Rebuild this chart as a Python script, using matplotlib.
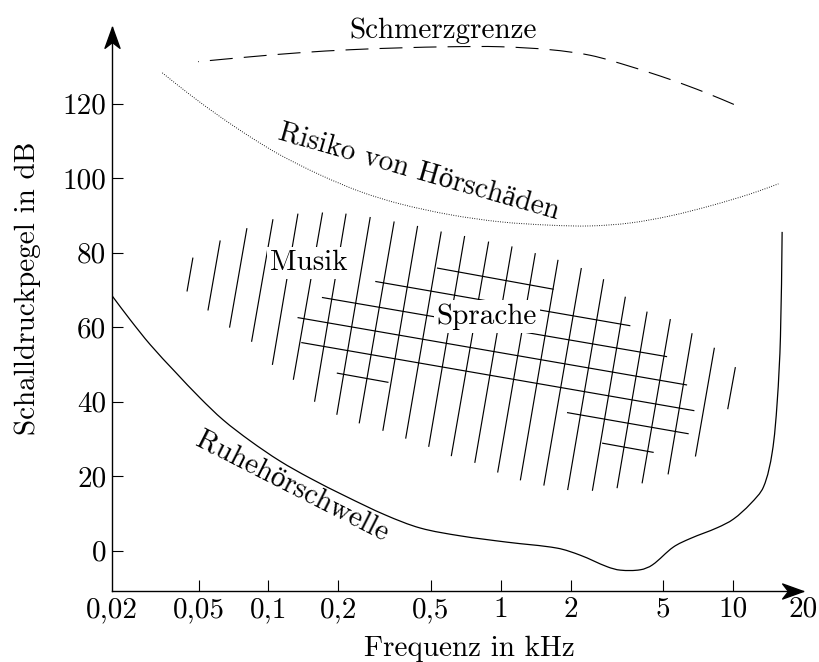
import numpy as np
import matplotlib
matplotlib.use('Agg')
import matplotlib.pyplot as plt
from matplotlib.path import Path
from matplotlib.patches import PathPatch
from matplotlib.ticker import NullLocator

plt.rcParams['font.family'] = ['cmr10', 'Liberation Serif']
plt.rcParams['mathtext.fontset'] = 'cm'
plt.rcParams['axes.formatter.use_mathtext'] = True
plt.rcParams['lines.scale_dashes'] = False

# ---------------- data ----------------
xtick_vals = [0.0212, 0.05, 0.1, 0.2, 0.5, 1, 2, 5, 10, 20]
xtick_labels = ['0,02', '0,05', '0,1', '0,2', '0,5', '1', '2', '5', '10', '20']
ytick_vals = [0, 20, 40, 60, 80, 100, 120]
ytick_labels = ['0', '20', '40', '60', '80', '100', '120']

# Ruhehörschwelle (threshold in quiet)
thr_f = [0.0213, 0.0254, 0.0310, 0.0397, 0.0508, 0.0639, 0.0835, 0.112, 0.151,
         0.214, 0.319, 0.451, 0.671, 1.069, 1.755, 2.205, 2.882, 3.280, 3.999,
         4.504, 5.547, 6.567, 8.582, 10.06, 11.91, 13.55, 14.77, 15.52, 16.04, 16.31]
thr_db = [68.3, 62.0, 55.3, 48.0, 41.0, 35.1, 29.5, 24.1, 19.5,
          14.7, 9.6, 6.1, 4.0, 2.3, 0.7, -1.2, -4.3, -5.2, -5.1,
          -3.8, 1.0, 3.3, 6.2, 8.5, 12.6, 17.1, 26.3, 39.7, 57.4, 85.6]

# Risiko von Hörschäden (dotted)
risk_f = [0.0349, 0.0460, 0.0620, 0.0835, 0.112, 0.167, 0.249, 0.370, 0.607,
          0.997, 1.637, 2.435, 3.621, 5.384, 8.009, 11.91, 15.72]
risk_db = [128.3, 122.4, 116.5, 111.1, 106.3, 100.9, 96.4, 93.1, 90.2,
           88.3, 87.4, 87.2, 88.0, 89.9, 92.6, 95.8, 98.5]

# Schmerzgrenze (dashed)
pain_f = [0.0498, 0.0835, 0.137, 0.225, 0.370, 0.607, 0.997, 1.637, 2.435,
          3.621, 5.384, 7.619, 10.57]
pain_db = [131.3, 132.6, 133.7, 134.5, 135.0, 135.3, 135.3, 134.5, 133.0,
           130.0, 126.5, 123.0, 119.3]

# Musik area: slanted hatch strokes (lower end -> upper end)
mus_f_lo = [0.0446, 0.0549, 0.0680, 0.0846, 0.104, 0.128, 0.158, 0.197, 0.246,
            0.311, 0.390, 0.490, 0.613, 0.774, 0.971, 1.216, 1.535, 1.944,
            2.484, 3.173, 4.067, 5.263, 6.902, 9.507]
mus_db_lo = [69.6, 64.5, 59.9, 56.1, 49.9, 45.9, 40.0, 36.5, 34.2,
             32.2, 30.1, 27.9, 25.4, 23.6, 21.0, 18.9, 17.5, 16.3,
             16.1, 16.8, 18.1, 20.5, 25.3, 38.0]
mus_f_hi = [0.0473, 0.0620, 0.0808, 0.1046, 0.134, 0.171, 0.216, 0.2745, 0.348,
            0.439, 0.555, 0.700, 0.888, 1.120, 1.411, 1.767, 2.227, 2.778,
            3.446, 4.274, 5.384, 6.677, 8.331, 10.26]
mus_db_hi = [78.7, 83.3, 86.6, 89.0, 90.5, 90.8, 90.5, 89.6, 88.4,
             87.2, 85.7, 84.5, 83.0, 81.7, 79.9, 78.1, 75.9, 72.9,
             68.2, 64.2, 62.2, 58.4, 54.5, 49.3]

# Sprache area: near-horizontal hatch strokes (left end -> right end)
sp_f_start = [0.532, 0.2885, 0.170, 0.1335, 0.1385, 0.197, 1.932, 2.735]
sp_db_start = [75.9, 72.3, 68.0, 62.6, 55.9, 47.7, 37.1, 28.9]
sp_f_end = [1.692, 3.621, 5.212, 6.355, 6.833, 0.329, 6.457, 4.563]
sp_db_end = [70.2, 60.4, 52.1, 44.5, 37.6, 45.2, 31.4, 26.4]

FS = 21


def smooth_path(fs, dbs):
    """Smooth cubic Bezier path passing through the given (f, dB) points."""
    sx, sy = 232.1, 3.7225  # approx. pixel scale per decade / per dB
    P = np.column_stack([np.log10(np.asarray(fs, float)) * sx,
                         np.asarray(dbs, float) * sy])
    n = len(P)
    T = np.zeros_like(P)
    T[0] = P[1] - P[0]
    T[-1] = P[-1] - P[-2]
    T[1:-1] = P[2:] - P[:-2]
    T /= np.linalg.norm(T, axis=1)[:, None]
    verts = [P[0]]
    codes = [Path.MOVETO]
    for i in range(n - 1):
        d = np.linalg.norm(P[i + 1] - P[i]) / 3.0
        verts += [P[i] + T[i] * d, P[i + 1] - T[i + 1] * d, P[i + 1]]
        codes += [Path.CURVE4] * 3
    V = np.array(verts)
    V = np.column_stack([10 ** (V[:, 0] / sx), V[:, 1] / sy])
    return Path(V, codes)


# ---------------- figure ----------------
W, H = 819, 662
fig = plt.figure(figsize=(W / 100, H / 100), dpi=100)
ax = fig.add_axes([112 / W, 71 / H, 690.7 / W, 564 / H])
ax.set_xscale('log')
ax.set_xlim(0.0212, 20)
ax.set_ylim(-10.8, 140.6)

for s in ['top', 'right']:
    ax.spines[s].set_visible(False)
for s in ['left', 'bottom']:
    ax.spines[s].set_linewidth(1.0)

ax.set_xticks(xtick_vals)
ax.set_xticklabels(xtick_labels)
ax.xaxis.set_minor_locator(NullLocator())
ax.set_yticks(ytick_vals)
ax.set_yticklabels(ytick_labels)
ax.tick_params(axis='both', direction='in', length=8, width=0.8, labelsize=FS)
ax.tick_params(axis='x', pad=4)
ax.tick_params(axis='y', pad=4)
xt = ax.xaxis.get_major_ticks()
xt[0].tick1line.set_visible(False)
xt[-1].tick1line.set_visible(False)

# arrow heads (stealth-like)
arr_r = Path([(0, 0), (-1, 0.36), (-0.72, 0), (-1, -0.36), (0, 0)],
             [Path.MOVETO, Path.LINETO, Path.LINETO, Path.LINETO, Path.CLOSEPOLY])
arr_u = Path([(0, 0), (0.36, -1), (0, -0.72), (-0.36, -1), (0, 0)],
             [Path.MOVETO, Path.LINETO, Path.LINETO, Path.LINETO, Path.CLOSEPOLY])
ax.plot([1], [0], marker=arr_r, markersize=30, color='black',
        transform=ax.transAxes, clip_on=False)
ax.plot([0], [1], marker=arr_u, markersize=30, color='black',
        transform=ax.transAxes, clip_on=False)

# curves (smooth paths through the read points)
ax.add_patch(PathPatch(smooth_path(thr_f, thr_db), fill=False, edgecolor='black',
                       lw=0.9, clip_on=False, label='Ruhehörschwelle'))
ax.add_patch(PathPatch(smooth_path(risk_f, risk_db), fill=False, edgecolor='black',
                       lw=0.7, linestyle=(0, (0.6, 1.1)), clip_on=False,
                       label='Risiko von Hörschäden'))
ax.add_patch(PathPatch(smooth_path(pain_f, pain_db), fill=False, edgecolor='black',
                       lw=0.8, linestyle=(16.0, (16.5, 8.0)), clip_on=False,
                       label='Schmerzgrenze'))

# hatching
for f0, d0, f1, d1 in zip(mus_f_lo, mus_db_lo, mus_f_hi, mus_db_hi):
    ax.plot([f0, f1], [d0, d1], color='black', lw=0.85, solid_capstyle='butt')
for f0, d0, f1, d1 in zip(sp_f_start, sp_db_start, sp_f_end, sp_db_end):
    ax.plot([f0, f1], [d0, d1], color='black', lw=0.85, solid_capstyle='butt')

# labels
ax.text(0.566, 137.7, 'Schmerzgrenze', fontsize=FS, ha='center', va='baseline',
        clip_on=False)
ax.text(0.4463, 101.8, 'Risiko von Hörschäden', fontsize=FS, ha='center',
        va='center', rotation=-16, rotation_mode='anchor')
ax.text(0.1266, 17.4, 'Ruhehörschwelle', fontsize=FS, ha='center', va='center',
        rotation=-27, rotation_mode='anchor')
ax.text(0.1492, 75.4, 'Musik', fontsize=FS, ha='center', va='baseline', zorder=5,
        bbox=dict(facecolor='white', edgecolor='none', pad=2))
ax.text(0.8737, 60.9, 'Sprache', fontsize=FS, ha='center', va='baseline', zorder=5,
        bbox=dict(facecolor='white', edgecolor='none', pad=2))

ax.set_xlabel('Frequenz in kHz', fontsize=FS)
ax.xaxis.set_label_coords(0.518, -0.1028)
ax.xaxis.label.set_va('center')
ax.set_ylabel('Schalldruckpegel in dB', fontsize=FS)
ax.yaxis.set_label_coords(-0.1216, 0.537)
ax.yaxis.label.set_va('center')

fig.savefig('out.png', dpi=100)
